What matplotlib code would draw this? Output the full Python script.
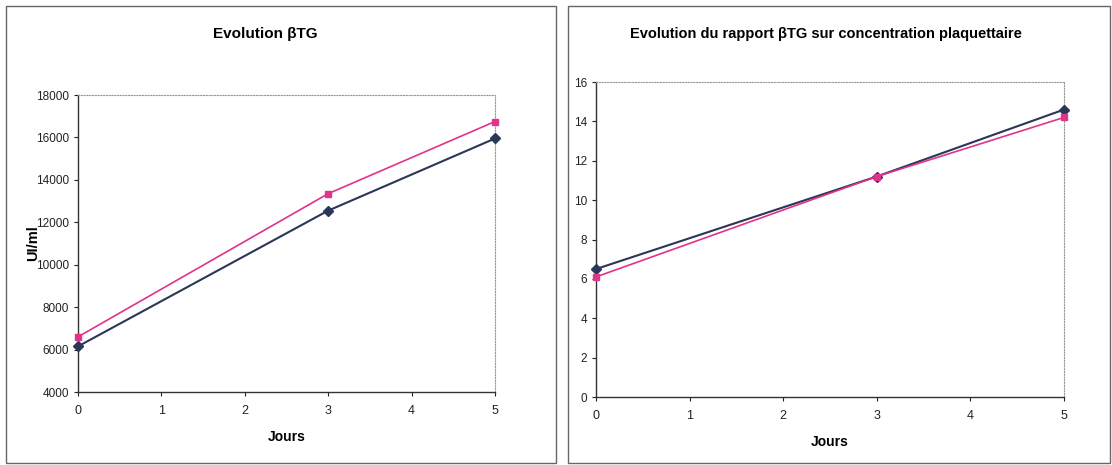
import matplotlib.pyplot as plt
from matplotlib.patches import Rectangle

plt.rcParams['font.family'] = ['Liberation Sans', 'DejaVu Sans']

jours = [0, 3, 5]

# Evolution bTG (UI/ml)
btg_bleu = [6150, 12550, 15950]
btg_rose = [6600, 13350, 16750]

# rapport bTG / concentration plaquettaire
rap_bleu = [6.5, 11.2, 14.6]
rap_rose = [6.1, 11.2, 14.2]

bleu = '#2b3658'
rose = '#e0338a'

fig = plt.figure(figsize=(11.12, 4.65), dpi=100)

# cadres des deux graphiques
fig.add_artist(Rectangle((6 / 1112, 2 / 465), 550 / 1112, 457 / 465, transform=fig.transFigure,
                         fill=False, edgecolor='#666666', lw=1.0))
fig.add_artist(Rectangle((568 / 1112, 2 / 465), 542 / 1112, 457 / 465, transform=fig.transFigure,
                         fill=False, edgecolor='#666666', lw=1.0))


def style(ax):
    for s in ['top', 'right']:
        ax.spines[s].set_linestyle((0, (1, 1.5)))
        ax.spines[s].set_color('#999999')
        ax.spines[s].set_linewidth(0.8)
    for s in ['left', 'bottom']:
        ax.spines[s].set_color('#333333')
        ax.spines[s].set_linewidth(1.0)
    ax.tick_params(direction='out', length=3, width=0.8, labelsize=8.5, colors='#222222')
    ax.tick_params(axis='x', pad=6, labelsize=9)
    ax.set_xlim(0, 5)
    ax.set_xticks(range(6))


ax1 = fig.add_axes([78 / 1112, 1 - 392 / 465, 417 / 1112, 297 / 465])
ax1.plot(jours, btg_bleu, '-D', color=bleu, ms=5, lw=1.5, clip_on=False, zorder=3)
ax1.plot(jours, btg_rose, '-s', color=rose, ms=5, lw=1.2, clip_on=False, zorder=3)
ax1.set_ylim(4000, 18000)
ax1.set_yticks(range(4000, 18001, 2000))
style(ax1)
ax1.set_xlabel('Jours', fontsize=10, fontweight='bold', labelpad=10)
ax1.set_ylabel('UI/ml', fontsize=10.5, fontweight='bold')
ax1.yaxis.set_label_coords(-0.092, 0.5)
fig.text(265 / 1112, 1 - 34 / 465, 'Evolution \u03b2TG', ha='center', va='center',
         fontsize=11, fontweight='bold')

ax2 = fig.add_axes([596 / 1112, 1 - 397 / 465, 468 / 1112, 315 / 465])
ax2.plot(jours, rap_bleu, '-D', color=bleu, ms=5, lw=1.5, clip_on=False, zorder=3)
ax2.plot(jours, rap_rose, '-s', color=rose, ms=5, lw=1.2, clip_on=False, zorder=3)
ax2.set_ylim(0, 16)
ax2.set_yticks(range(0, 17, 2))
style(ax2)
ax2.set_xlabel('Jours', fontsize=10, fontweight='bold', labelpad=10)
fig.text(826 / 1112, 1 - 34 / 465, 'Evolution du rapport \u03b2TG sur concentration plaquettaire',
         ha='center', va='center', fontsize=10.5, fontweight='bold')

fig.savefig('out.png', dpi=100)
